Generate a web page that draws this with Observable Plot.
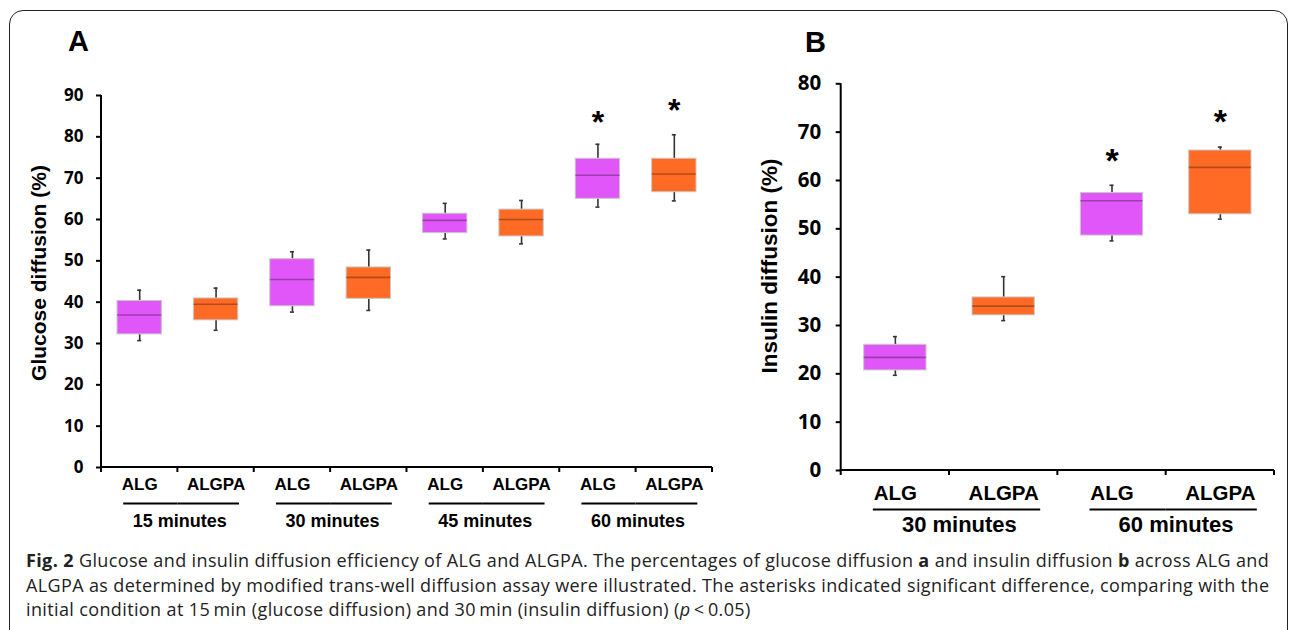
<!DOCTYPE html>
<html>
<head>
<meta charset="utf-8">
<script src="https://cdn.jsdelivr.net/npm/d3@7"></script>
<script src="https://cdn.jsdelivr.net/npm/@observablehq/plot@0.6"></script>
<style>
  html, body { margin: 0; padding: 0; background: #fff; }
  body { width: 1290px; height: 630px; overflow: hidden; position: relative; }
  #frame { position: absolute; left: 9px; top: 10px; width: 1279px; height: 660px;
           border: 1.6px solid #222; border-radius: 14px; box-sizing: border-box; }
  .plot { position: absolute; top: 0; }
  .letter { position: absolute; font-family: "Liberation Sans", Arial, sans-serif; font-weight: bold; font-size: 29px; color: #000; line-height: 1; }
  .ytitle { position: absolute; font-family: "Liberation Sans", Arial, sans-serif; font-weight: bold; color: #000;
            white-space: nowrap; transform: translate(-50%, -50%) rotate(-90deg); line-height: 1; }
  #caption { position: absolute; left: 26px; top: 548px; font-family: "Open Sans", sans-serif; font-size: 18px;
             letter-spacing: 0.37px; line-height: 24.5px; color: #222; white-space: nowrap; }
</style>
</head>
<body>
<div id="frame"></div>
<div class="letter" style="left:68px; top:27px;">A</div>
<div class="letter" style="left:805px; top:28px;">B</div>
<div class="ytitle" style="left:38px; top:273px; font-size:21px;">Glucose diffusion (%)</div>
<div class="ytitle" style="left:770px; top:266px; font-size:22.5px;">Insulin diffusion (%)</div>
<div id="plotA" class="plot" style="left:0px;"></div>
<div id="plotB" class="plot" style="left:740px;"></div>
<div id="caption"><b>Fig. 2</b> Glucose and insulin diffusion efficiency of ALG and ALGPA. The percentages of glucose diffusion <b>a</b> and insulin diffusion <b>b</b> across ALG and<br>ALGPA as determined by modified trans-well diffusion assay were illustrated. The asterisks indicated significant difference, comparing with the<br>initial condition at 15&#8201;min (glucose diffusion) and 30&#8201;min (insulin diffusion) (<i>p</i>&#8201;&lt;&#8201;0.05)</div>
<script>
// ---------------- data ----------------
const groups = ["ALG", "ALGPA"];
const timesA = ["15 minutes", "30 minutes", "45 minutes", "60 minutes"];
const lowA  = [30.7, 33.2, 37.6, 38.0, 55.3, 54.1, 63.0, 64.5];
const q1A   = [32.2, 35.6, 39.0, 40.8, 56.7, 55.9, 65.0, 66.6];
const medA  = [36.9, 39.5, 45.5, 46.0, 59.8, 60.0, 70.7, 71.0];
const q3A   = [40.3, 40.9, 50.4, 48.4, 61.4, 62.4, 74.7, 74.7];
const highA = [42.9, 43.4, 52.2, 52.6, 63.9, 64.6, 78.2, 80.5];
const starA = [null, null, null, null, null, null, 84.9, 87.6];
const yTicksA = [0, 10, 20, 30, 40, 50, 60, 70, 80, 90];

const timesB = ["30 minutes", "60 minutes"];
const lowB  = [19.7, 31.0, 47.5, 52.0];
const q1B   = [20.7, 32.1, 48.6, 53.0];
const medB  = [23.4, 34.0, 55.8, 62.7];
const q3B   = [26.0, 35.8, 57.4, 66.2];
const highB = [27.7, 40.1, 59.0, 66.9];
const starB = [null, null, 65.2, 73.4];
const yTicksB = [0, 10, 20, 30, 40, 50, 60, 70, 80];

const colors = {ALG: "#E156F8", ALGPA: "#FF6A25"};

function build(times, low, q1, med, q3, high, star) {
  const rows = [];
  times.forEach((t, i) => groups.forEach((g, j) => {
    const k = i * groups.length + j;
    rows.push({key: t + "|" + g, time: t, grp: g, idx: j, low: low[k], q1: q1[k], med: med[k], q3: q3[k], high: high[k], star: star[k]});
  }));
  return rows;
}
const dataA = build(timesA, lowA, q1A, medA, q3A, highA, starA);
const dataB = build(timesB, lowB, q1B, medB, q3B, highB, starB);

const SVGNS = "http://www.w3.org/2000/svg";
function axisLines(keys) {
  return (index, scales, values, dims) => {
    const {width, height, marginLeft, marginRight, marginTop, marginBottom} = dims;
    const g = document.createElementNS(SVGNS, "g");
    g.setAttribute("stroke", "#000");
    const yb = height - marginBottom;
    const add = (x1, y1, x2, y2, w) => {
      const l = document.createElementNS(SVGNS, "line");
      l.setAttribute("x1", x1); l.setAttribute("y1", y1);
      l.setAttribute("x2", x2); l.setAttribute("y2", y2);
      l.setAttribute("stroke-width", w);
      g.appendChild(l);
    };
    add(marginLeft, marginTop, marginLeft, yb, 2);
    add(marginLeft - 1, yb, width - marginRight, yb, 2);
    const x = scales.x;
    const bw = x.bandwidth ? x.bandwidth() : (width - marginLeft - marginRight) / keys.length;
    const xs = keys.map(k => x(k));
    xs.push(xs[xs.length - 1] + bw);
    xs.forEach(px => add(px, yb, px, yb + 5, 2));
    return g;
  };
}

function panel(data, opts) {
  const keys = data.map(d => d.key);
  const bw = (opts.width - opts.marginLeft - opts.marginRight) / keys.length;
  const capInset = (bw - 4) / 2;
  const firsts = data.filter(d => d.idx === 0);
  const lasts = data.filter(d => d.idx === groups.length - 1);
  const font = "'Liberation Sans', Arial, sans-serif";
  return Plot.plot({
    width: opts.width, height: opts.height,
    marginLeft: opts.marginLeft, marginRight: opts.marginRight,
    marginTop: opts.marginTop, marginBottom: opts.marginBottom,
    style: {background: "transparent", overflow: "visible", color: "#000"},
    x: {domain: keys, padding: 0, round: false, axis: null},
    y: {domain: opts.yDomain},
    marks: [
      Plot.axisY({ticks: opts.yTicks, tickSize: 5, tickPadding: opts.tickPadding, fontSize: opts.tickFont,
                  fontWeight: "bold", fontFamily: "'Open Sans', sans-serif", label: null, strokeWidth: 2}),
      // whiskers
      Plot.ruleX(data, {x: "key", y1: "q3", y2: "high", stroke: "#333", strokeWidth: 1.6}),
      Plot.ruleX(data, {x: "key", y1: "low", y2: "q1", stroke: "#333", strokeWidth: 1.6}),
      Plot.tickY(data, {x: "key", y: "high", stroke: "#333", strokeWidth: 1.6, insetLeft: capInset, insetRight: capInset}),
      Plot.tickY(data, {x: "key", y: "low", stroke: "#333", strokeWidth: 1.6, insetLeft: capInset, insetRight: capInset}),
      // boxes
      Plot.barY(data, {x: "key", y1: "q1", y2: "q3", fill: d => colors[d.grp], stroke: "#c8c8c8", strokeWidth: 1,
                       insetLeft: opts.boxInset, insetRight: opts.boxInset}),
      Plot.tickY(data, {x: "key", y: "med", stroke: "#000", strokeOpacity: 0.3, strokeWidth: 1.6,
                        insetLeft: opts.boxInset, insetRight: opts.boxInset}),
      // significance
      Plot.text(data.filter(d => d.star != null), {x: "key", y: "star", text: () => "*", fontSize: opts.starFont,
                fontWeight: "bold", fontFamily: font, dy: opts.starFont * 0.18}),
      // category labels
      Plot.text(data, {x: "key", frameAnchor: "bottom", dy: opts.labelDy, text: "grp", fontSize: opts.labelFont,
                fontWeight: "bold", fontFamily: font}),
      // group underline (spans from first to last category of a time point)
      Plot.tickY(firsts, {x: "key", y: () => opts.yDomain[0], dy: opts.lineDy, stroke: "#000", strokeWidth: 2,
                 insetLeft: bw / 2 + opts.lineLeft, insetRight: 0}),
      Plot.tickY(lasts, {x: "key", y: () => opts.yDomain[0], dy: opts.lineDy, stroke: "#000", strokeWidth: 2,
                 insetLeft: 0, insetRight: bw / 2 + opts.lineRight}),
      // group labels
      Plot.text(firsts, {x: "key", frameAnchor: "bottom", dy: opts.groupDy, dx: opts.groupDx, text: "time",
                fontSize: opts.groupFont, fontWeight: "bold", fontFamily: font}),
      axisLines(keys)
    ]
  });
}

document.getElementById("plotA").appendChild(panel(dataA, {
  width: 740, height: 545, marginLeft: 101, marginRight: 28, marginTop: 95, marginBottom: 78,
  yDomain: [0, 90], yTicks: yTicksA, tickPadding: 13, tickFont: 17,
  boxInset: 16, starFont: 32, labelDy: 22, labelFont: 17,
  lineDy: 36, lineLeft: -16, lineRight: -23.5, groupDy: 59, groupDx: 40, groupFont: 18
}));

document.getElementById("plotB").appendChild(panel(dataB, {
  width: 550, height: 545, marginLeft: 100.7, marginRight: 16, marginTop: 83.3, marginBottom: 75,
  yDomain: [0, 80], yTicks: yTicksB, tickPadding: 15, tickFont: 20.5,
  boxInset: 23, starFont: 34, labelDy: 29, labelFont: 20.5,
  lineDy: 39, lineLeft: -22, lineRight: -37, groupDy: 61, groupDx: 64, groupFont: 22
}));
</script>
</body>
</html>
